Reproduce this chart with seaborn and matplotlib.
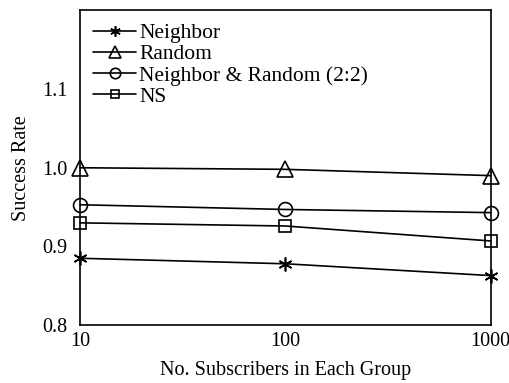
import matplotlib
matplotlib.use("Agg")
import matplotlib.pyplot as plt
import seaborn as sns
import pandas as pd
from matplotlib.ticker import FixedLocator, FixedFormatter, NullLocator

sns.set_theme(style="white")
plt.rcParams["font.family"] = ["Liberation Serif", "DejaVu Serif"]

group_sizes = [10, 100, 1000]
neighbor = [0.885, 0.878, 0.863]
random_sel = [1.000, 0.998, 0.990]
mixed = [0.953, 0.947, 0.943]
ns = [0.930, 0.926, 0.907]

series_names = ["Neighbor", "Random", "Neighbor & Random (2:2)", "NS"]
series_values = [neighbor, random_sel, mixed, ns]
series_markers = [(6, 2, 0), "^", "o", "s"]
marker_sizes = [10, 11, 10, 8]

y_ticks = [0.8, 0.9, 1.0, 1.1]
x_tick_labels = ["10", "100", "1000"]

fig, ax = plt.subplots(figsize=(5.10, 3.83), dpi=100)
fig.subplots_adjust(left=0.157, right=0.962, top=0.973, bottom=0.151)

for name, vals, mk, ms in zip(series_names, series_values, series_markers, marker_sizes):
    df = pd.DataFrame({"size": group_sizes, "rate": vals})
    sns.lineplot(data=df, x="size", y="rate", ax=ax, color="black", linewidth=1.2,
                 marker=mk, markersize=ms, markerfacecolor="none",
                 markeredgecolor="black", markeredgewidth=1.2, label=name,
                 clip_on=False, zorder=3)

ax.set_xscale("log")
ax.set_xlim(10, 1000)
ax.set_ylim(0.8, 1.2)
ax.xaxis.set_major_locator(FixedLocator(group_sizes))
ax.xaxis.set_major_formatter(FixedFormatter(x_tick_labels))
ax.xaxis.set_minor_locator(NullLocator())
ax.yaxis.set_major_locator(FixedLocator(y_ticks))
ax.set_yticklabels([f"{v:.1f}" for v in y_ticks])

ax.tick_params(axis="both", direction="in", length=4, width=1, colors="black",
               labelsize=14.5, top=False, right=False)
ax.tick_params(axis="x", pad=5)
ax.tick_params(axis="y", pad=9)
for sp in ax.spines.values():
    sp.set_color("black")
    sp.set_linewidth(1.2)

ax.set_xlabel("No. Subscribers in Each Group", fontsize=14.5, color="black", labelpad=7)
ax.set_ylabel("Success Rate", fontsize=14.5, color="black", labelpad=8)

leg = ax.legend(loc="upper left", frameon=False, fontsize=15.5, handlelength=2.0,
                handletextpad=0.15, labelspacing=0.05, borderaxespad=0.2,
                markerscale=0.75, bbox_to_anchor=(0.0, 1.0))
for t in leg.get_texts():
    t.set_color("black")

fig.savefig("out.png", dpi=100)
